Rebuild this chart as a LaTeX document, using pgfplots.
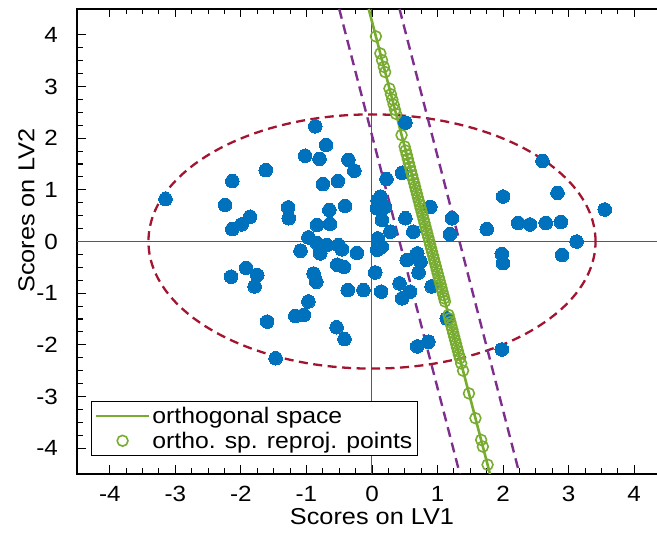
\documentclass[border=0pt]{standalone}
\usepackage{pgfplots}
\pgfplotsset{compat=1.18}
\usepackage{fontspec}
\setmainfont{Liberation Sans}[FakeStretch=1.10]

\definecolor{scoreblue}{HTML}{0072BD}
\definecolor{orthogreen}{HTML}{77AC30}
\definecolor{limitpurple}{HTML}{7E2F8E}
\definecolor{ellipsered}{HTML}{A2142F}

\newcommand{\tickfont}{\fontsize{22bp}{26bp}\selectfont}
\newcommand{\labelfont}{\fontsize{23bp}{27bp}\selectfont}
\newcommand{\legendfont}{\fontsize{22.5bp}{26bp}\selectfont}

\begin{document}
\begin{tikzpicture}
\path[use as bounding box] (0,0) rectangle (657bp,533bp);
\clip (0,0) rectangle (657bp,533bp);
\begin{axis}[
  at={(77bp,59bp)}, anchor=south west,
  scale only axis, width=590bp, height=465bp,
  xmin=-4.5, xmax=4.5, ymin=-4.5, ymax=4.5,
  xtick={-4,-3,...,4}, ytick={-4,-3,...,4},
  minor tick num=3,
  tick align=inside,
  major tick length=8.5bp, minor tick length=5.5bp,
  every tick/.style={black, line width=1.1bp},
  axis line style={black, line width=1.4bp},
  ticklabel style={font=\tickfont},
  /pgf/number format/assume math mode=true,
  yticklabel style={inner xsep=0pt, xshift=-19bp},
  xticklabel style={inner ysep=0pt, yshift=-12bp},
  xlabel={Scores on LV1},
  ylabel={Scores on LV2},
  xlabel style={font=\labelfont, inner sep=0pt, at={(axis description cs:0.5,-0.091)}, anchor=center},
  ylabel style={font=\labelfont, inner sep=0pt, at={(axis description cs:-0.0858,0.566)}, anchor=center},
  legend image code/.code={\draw[mark repeat=2, mark phase=2, #1] plot coordinates {(0bp,0bp) (26.5bp,0bp) (53bp,0bp)};},
  legend style={at={(rel axis cs:0.0232,0.157)}, anchor=north west,
    draw=black, line width=1.2bp, fill=white,
    font=\legendfont, inner xsep=3.5bp, inner ysep=3.5bp,
    row sep=3bp, cells={anchor=west}},
  legend cell align=left,
]
% zero reference lines
\addplot[forget plot, black!65, line width=1bp] coordinates {(0,-4.5) (0,4.5)};
\addplot[forget plot, black!65, line width=1bp] coordinates {(-4.5,0) (4.5,0)};

% sample scores
\addplot[forget plot, only marks, mark=*, mark size=6.8bp,
  mark options={fill=scoreblue, draw=scoreblue, line width=0pt}] coordinates {
  (-0.865,2.23) (-0.70,1.87) (-1.02,1.66) (-0.80,1.60) (-0.36,1.58)
  (-0.27,1.37) (-1.62,1.38) (-2.13,1.17) (-0.75,1.11) (-0.52,1.17)
  (-3.15,0.82) (-2.24,0.71) (-1.28,0.66) (-1.27,0.45) (-0.65,0.61)
  (-0.41,0.69) (-1.86,0.48) (-1.99,0.33) (-2.13,0.24) (-0.84,0.32)
  (-0.64,0.34) (-0.97,0.08) (0.085,0.80) (0.08,0.64) (0.09,0.06)
  (0.51,2.30) (2.60,1.56) (0.22,1.21) (0.46,1.33) (0.13,0.87)
  (0.20,0.67) (2.00,0.87) (2.83,0.94) (3.55,0.62) (0.89,0.67)
  (1.22,0.45) (0.51,0.45) (0.15,0.42) (1.75,0.24) (2.23,0.36)
  (2.41,0.33) (2.65,0.36) (2.88,0.38) (3.12,0.00) (0.28,0.19)
  (0.63,0.19) (1.19,0.14) (-0.84,-0.03) (-0.69,-0.07) (-0.51,-0.07)
  (-1.09,-0.18) (-0.79,-0.23) (-0.46,-0.15) (-0.23,-0.22) (0.08,-0.16)
  (-2.15,-0.68) (-1.92,-0.51) (-1.75,-0.65) (-1.79,-0.87) (-0.89,-0.62)
  (-0.85,-0.78) (-0.53,-0.45) (-0.43,-0.49) (-0.37,-0.94) (-0.13,-0.94)
  (0.05,-0.60) (-0.97,-1.16) (-1.17,-1.44) (-1.04,-1.42) (-1.60,-1.55)
  (-0.54,-1.66) (-0.42,-1.89) (-1.47,-2.26) (0.15,-0.10) (0.53,-0.36)
  (0.69,-0.23) (0.74,-0.39) (0.71,-0.60) (1.98,-0.24) (2.00,-0.42)
  (2.90,-0.26) (0.42,-0.81) (0.58,-0.97) (0.46,-1.10) (0.14,-0.97)
  (0.91,-0.87) (0.86,-1.94) (0.69,-2.03) (1.98,-2.09) (1.14,-1.49)
};

% confidence ellipse
\draw[ellipsered, line width=2.3bp, dash pattern=on 9bp off 5.5bp]
  (axis cs:0,0) ellipse [x radius=3.41, y radius=2.46];

% limits of the orthogonal space
\addplot[forget plot, limitpurple, line width=2.4bp, dash pattern=on 10bp off 6bp]
  coordinates {(-0.50,4.5) (1.34,-4.5)};
\addplot[forget plot, limitpurple, line width=2.4bp, dash pattern=on 10bp off 6bp]
  coordinates {(0.42,4.5) (2.25,-4.5)};

% orthogonal space
\addplot[orthogreen, line width=2.6bp] coordinates {(-0.05,4.5) (1.80,-4.5)};
\addlegendentry{orthogonal space}

% reprojected points
\addplot[only marks, mark=o, mark size=5.4bp,
  mark options={draw=orthogreen, line width=1.6bp}] coordinates {
  (0.059,3.97) (0.127,3.64) (0.153,3.51) (0.180,3.38) (0.201,3.28)
  (0.266,2.96) (0.289,2.85) (0.310,2.75) (0.330,2.65) (0.351,2.55)
  (0.367,2.47) (0.451,2.06) (0.497,1.84) (0.513,1.76) (0.530,1.68)
  (0.546,1.60) (0.562,1.52) (0.579,1.44) (0.595,1.36) (0.612,1.28)
  (0.628,1.20) (0.643,1.13) (0.657,1.06) (0.671,0.99) (0.686,0.92)
  (0.700,0.85) (0.715,0.78) (0.729,0.71) (0.743,0.64) (0.758,0.57)
  (0.772,0.50) (0.787,0.43) (0.801,0.36) (0.815,0.29) (0.830,0.22)
  (0.844,0.15) (0.859,0.08) (0.873,0.01) (0.887,-0.06) (0.902,-0.13)
  (0.916,-0.20) (0.931,-0.27) (0.945,-0.34) (0.959,-0.41) (0.974,-0.48)
  (0.988,-0.55) (1.002,-0.62) (1.017,-0.69) (1.031,-0.76) (1.046,-0.83)
  (1.060,-0.90) (1.074,-0.97) (1.089,-1.04) (1.101,-1.10) (1.113,-1.16)
  (1.167,-1.42) (1.181,-1.49) (1.196,-1.56) (1.210,-1.63) (1.225,-1.70)
  (1.239,-1.77) (1.253,-1.84) (1.268,-1.91) (1.282,-1.98) (1.296,-2.05)
  (1.311,-2.12) (1.325,-2.19) (1.340,-2.26) (1.360,-2.36) (1.389,-2.50)
  (1.479,-2.94) (1.578,-3.42) (1.665,-3.84) (1.691,-3.97) (1.763,-4.32)
};
\addlegendentry{ortho. sp. reproj. points}
\end{axis}
\end{tikzpicture}
\end{document}
